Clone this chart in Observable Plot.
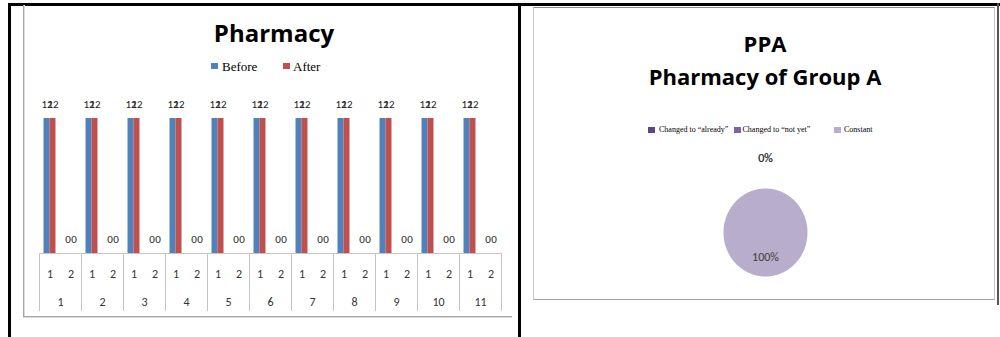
<!DOCTYPE html>
<html>
<head>
<meta charset="utf-8">
<script src="https://cdn.jsdelivr.net/npm/d3@7"></script>
<script src="https://cdn.jsdelivr.net/npm/@observablehq/plot@0.6"></script>
<style>
  html, body { margin: 0; padding: 0; background: #fff; }
  #page { position: relative; width: 1000px; height: 337px; overflow: hidden; background: #fff; }
  .abs { position: absolute; }
  .title { font-family: "Open Sans", Carlito, Calibri, sans-serif; font-weight: 700; color: #000; text-align: center; white-space: nowrap; }
  .serif { font-family: "Liberation Serif", "Times New Roman", serif; color: #000; white-space: nowrap; }
  svg { overflow: visible; }
</style>
</head>
<body>
<div id="page"></div>
<script>
// ---- Bar chart: Pharmacy, before / after ----
const groups = ["1", "2", "3", "4", "5", "6", "7", "8", "9", "10", "11"];
const subCategories = ["1", "2"];
const seriesNames = ["Before", "After"];
const seriesColors = ["#4F81BD", "#C0504D"];
// value per group for sub-category "1" and "2"
const beforeValues = [[12, 0], [12, 0], [12, 0], [12, 0], [12, 0], [12, 0], [12, 0], [12, 0], [12, 0], [12, 0], [12, 0]];
const afterValues  = [[12, 0], [12, 0], [12, 0], [12, 0], [12, 0], [12, 0], [12, 0], [12, 0], [12, 0], [12, 0], [12, 0]];

// ---- Pie chart: PPA, Pharmacy of Group A ----
const pieCategories = ["Changed to \u201calready\u201d", "Changed to \u201cnot yet\u201d", "Constant"];
const pieValues = [0, 0, 100];
const pieColors = ["#5F497A", "#8064A2", "#B8ADCB"];

const page = document.getElementById("page");
const labelFont = "Carlito, Calibri, Lato, sans-serif";

function box(css) {
  const d = document.createElement("div");
  d.className = "abs";
  Object.assign(d.style, css);
  page.appendChild(d);
  return d;
}
function place(node, left, top) {
  node.style.position = "absolute";
  node.style.left = left + "px";
  node.style.top = top + "px";
  page.appendChild(node);
  return node;
}

// page frame lines
box({left: "8px", top: "3px", width: "992px", height: "2.5px", background: "#000"});
box({left: "8px", top: "3px", width: "2.7px", height: "334px", background: "#000"});
box({left: "517.8px", top: "3px", width: "2.8px", height: "334px", background: "#000"});

// left chart area border (left and bottom edges)
box({left: "23px", top: "5px", width: "1.3px", height: "312px", background: "#a6a6a6"});
box({left: "24.3px", top: "5px", width: "1px", height: "312px", background: "#dcdcdc"});
box({left: "23px", top: "315.5px", width: "489px", height: "1.3px", background: "#a6a6a6"});
box({left: "23px", top: "316.8px", width: "489px", height: "1px", background: "#dcdcdc"});

// right chart area border
box({left: "533px", top: "6.5px", width: "462px", height: "293.5px", borderTop: "1.5px solid #8c8c8c", borderLeft: "1px solid #c8c8c8", borderRight: "1px solid #c8c8c8", borderBottom: "1.3px solid #a6a6a6", boxSizing: "border-box"});
box({left: "997px", top: "3px", width: "2px", height: "302px", background: "#555"});

// ---- titles ----
const t1 = box({left: "174px", top: "20px", width: "200px", fontSize: "24px", lineHeight: "26px"});
t1.classList.add("title"); t1.textContent = "Pharmacy";
const t2 = box({left: "615px", top: "27px", width: "300px", fontSize: "22px", lineHeight: "33px"});
t2.classList.add("title"); t2.innerHTML = "PPA<br>Pharmacy of Group A";

// ---- bar legend ----
const barLegendPos = [{chip: 211, text: 222}, {chip: 283, text: 293}];
seriesNames.forEach((name, i) => {
  box({left: barLegendPos[i].chip + "px", top: "62.5px", width: "6.5px", height: "6.5px", background: seriesColors[i]});
  const t = box({left: barLegendPos[i].text + "px", top: "60px", fontSize: "13px", lineHeight: "13px"});
  t.classList.add("serif"); t.textContent = name;
});

// ---- pie legend ----
const pieLegendPos = [{chip: 648, text: 659}, {chip: 734, text: 742.5}, {chip: 834, text: 844}];
pieCategories.forEach((name, i) => {
  box({left: pieLegendPos[i].chip + "px", top: "127px", width: "6.5px", height: "6px", background: pieColors[i]});
  const t = box({left: pieLegendPos[i].text + "px", top: "126px", fontSize: "8px", lineHeight: "8px"});
  t.classList.add("serif"); t.textContent = name;
});

// ---- bars ----
const barRows = [];
groups.forEach((g, i) => subCategories.forEach((s, j) => {
  barRows.push({group: g, sub: s, series: "Before", value: beforeValues[i][j]});
  barRows.push({group: g, sub: s, series: "After", value: afterValues[i][j]});
}));
const beforeRows = barRows.filter(d => d.series === "Before");
const afterRows = barRows.filter(d => d.series === "After");

const shared = {
  width: 520,
  marginLeft: 39,
  marginRight: 19,
  fx: {domain: groups, padding: 0, axis: null},
  x: {type: "band", domain: subCategories, padding: 0, axis: null}
};

const barPlot = Plot.plot({
  ...shared,
  height: 253,
  marginTop: 118,
  marginBottom: 0,
  y: {domain: [0, 12], axis: null},
  color: {domain: seriesNames, range: seriesColors},
  marks: [
    Plot.barY(beforeRows, {fx: "group", x: "sub", y: "value", fill: "series", insetLeft: 4.5, insetRight: 10.5}),
    Plot.barY(afterRows, {fx: "group", x: "sub", y: "value", fill: "series", insetLeft: 10.5, insetRight: 4.5}),
    Plot.text(beforeRows, {fx: "group", x: "sub", y: "value", text: d => String(d.value), dx: -3, dy: -14, fontFamily: labelFont, fontSize: 11, fill: "#222"}),
    Plot.text(afterRows, {fx: "group", x: "sub", y: "value", text: d => String(d.value), dx: 3, dy: -14, fontFamily: labelFont, fontSize: 11, fill: "#222"})
  ]
});
place(barPlot, 0, 0);

// ---- two-level category axis ----
const subLabelRows = groups.flatMap(g => subCategories.map(s => ({group: g, sub: s})));
const axisPlot = Plot.plot({
  ...shared,
  height: 57,
  marginTop: 0,
  marginBottom: 0,
  y: {type: "band", domain: ["sub", "group"], range: [0, 57], padding: 0, axis: null},
  marks: [
    Plot.frame({anchor: "left", stroke: "#c4c4c4"}),
    Plot.frame({anchor: "right", stroke: "#c4c4c4"}),
    Plot.frame({anchor: "top", stroke: "#c4c4c4"}),
    Plot.text(subLabelRows, {fx: "group", x: "sub", y: () => "sub", text: "sub", dy: 6, fontFamily: labelFont, fontSize: 12, fill: "#333"}),
    Plot.text(groups, {fx: d => d, y: () => "group", text: d => d, dy: 6, fontFamily: labelFont, fontSize: 12, fill: "#333"})
  ]
});
place(axisPlot, 0, 253);

// ---- pie ----
const arcs = d3.pie().sort(null).value(d => d)(pieValues);
const slicePoints = [];
const sliceLabels = [];
arcs.forEach((a, i) => {
  const name = pieCategories[i];
  slicePoints.push({slice: name, x: 0, y: 0});
  const steps = Math.max(1, Math.ceil((a.endAngle - a.startAngle) / 0.02));
  for (let k = 0; k <= steps; ++k) {
    const t = a.startAngle + (a.endAngle - a.startAngle) * k / steps;
    slicePoints.push({slice: name, x: Math.sin(t), y: Math.cos(t)});
  }
  const mid = (a.startAngle + a.endAngle) / 2;
  const share = a.value / d3.sum(pieValues);
  const r = share < 0.05 ? 1.7 : 0.57; // small slices labelled outside
  sliceLabels.push({slice: name, x: Math.sin(mid) * r, y: Math.cos(mid) * r, text: Math.round(share * 100) + "%"});
});

const piePlot = Plot.plot({
  width: 200,
  height: 200,
  marginLeft: 58,
  marginRight: 58,
  marginTop: 56,
  marginBottom: 56,
  x: {domain: [-1, 1], axis: null},
  y: {domain: [-1, 1], axis: null},
  color: {domain: pieCategories, range: pieColors},
  marks: [
    Plot.line(slicePoints, {x: "x", y: "y", z: "slice", fill: "slice", stroke: null, curve: "linear-closed"}),
    Plot.text(sliceLabels, {x: "x", y: "y", text: "text", fontFamily: labelFont, fontSize: 12, fill: "#404040"})
  ]
});
place(piePlot, 665, 132);
</script>
</body>
</html>
